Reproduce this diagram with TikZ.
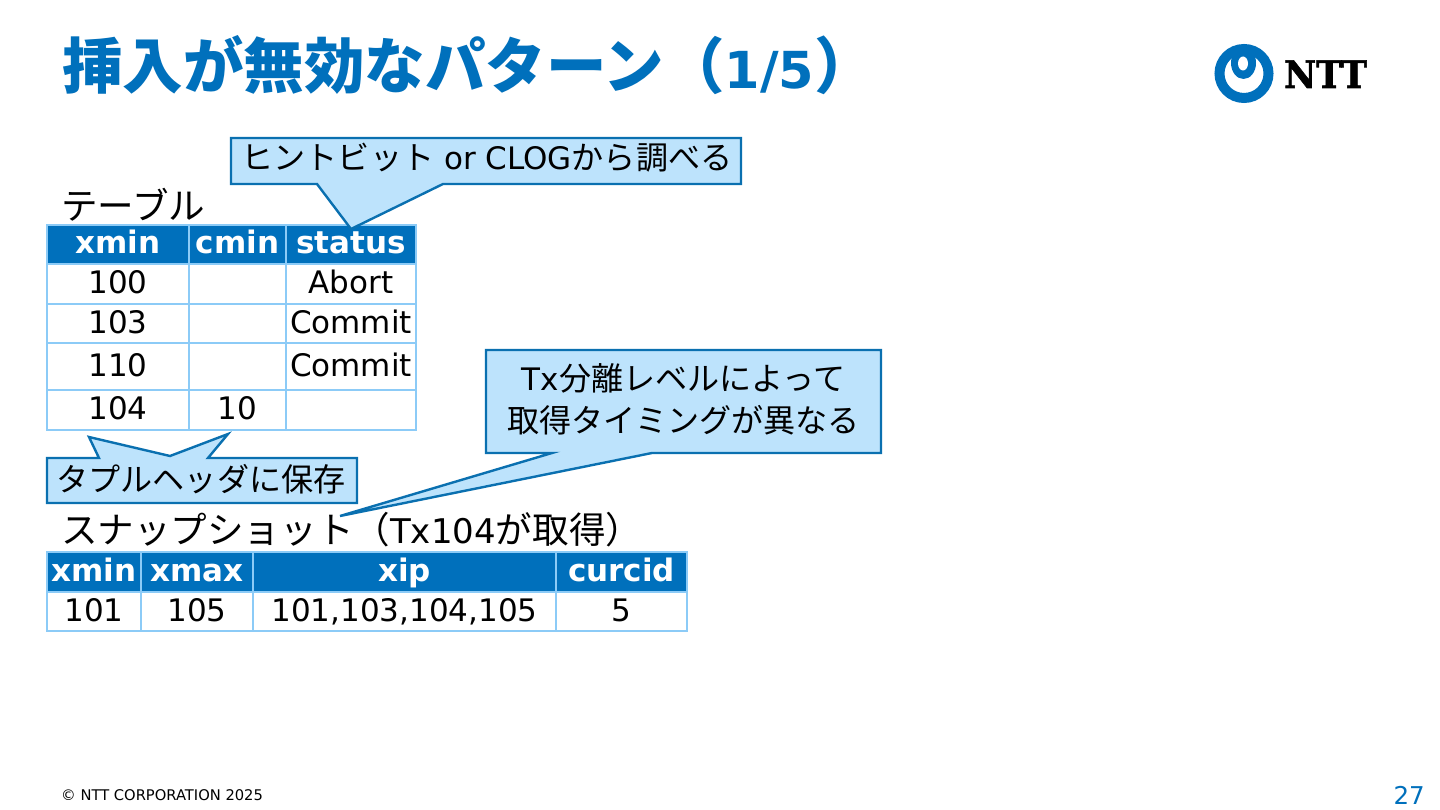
\documentclass[tikz,border=0pt]{standalone}
\usepackage{fontspec}
\setmainfont{DejaVu Sans}
\newfontfamily\jpf{Noto Sans CJK JP}
\newfontfamily\jpcall[Scale=1.035]{Noto Sans CJK JP}
\newfontfamily\jplab[Scale=1.075]{Noto Sans CJK JP}
\newfontfamily\logofont[BoldFeatures={FakeBold=1.5,FakeStretch=0.92}]{DejaVu Serif}
\newcommand{\jc}[1]{{\jpcall #1}}
\newcommand{\jl}[1]{{\jplab #1}}
\newcommand{\jt}[1]{{\jpf #1}}
\definecolor{nttblue}{HTML}{0070BC}
\definecolor{gridblue}{HTML}{8CCBF7}
\definecolor{callfill}{HTML}{BDE3FC}
\definecolor{callline}{HTML}{0A70B0}
\tikzset{
  x=1pt,y=-1pt,
  tcell/.style={draw=gridblue,line width=2.6pt,inner sep=0pt,text height=23pt,text depth=4pt,font=\fontsize{31}{34}\selectfont,text=black},
  thead/.style={tcell,fill=nttblue,text=white,font=\fontsize{31}{34}\selectfont\bfseries},
  callout/.style={fill=callfill,draw=callline,line width=2.4pt,line join=miter},
  calltext/.style={inner sep=0pt,anchor=base,text=black,font=\fontsize{31}{36}\selectfont},
  label/.style={inner sep=0pt,anchor=base west,text=black,font=\fontsize{34}{38}\selectfont},
}
% name, x0, y0, x1, y1, style, text
\newcommand{\cellbox}[7]{%
  \pgfmathsetmacro{\cw}{#4-#2}\pgfmathsetmacro{\ch}{#5-#3}%
  \pgfmathsetmacro{\cx}{(#2+#4)/2}\pgfmathsetmacro{\cy}{(#3+#5)/2}%
  \node[#6,minimum width=\cw pt,minimum height=\ch pt] (#1) at (\cx,\cy) {#7};}
\begin{document}
\begin{tikzpicture}
\useasboundingbox (0,0) rectangle (1440,810);
\fill[white] (0,0) rectangle (1440,810);

% title
\node[inner sep=0pt,anchor=base west,text=nttblue,font=\fontsize{60.5}{64}\selectfont\bfseries] (title) at (62,89)
  {\jt{挿入が無効なパターン（}\fontsize{51}{64}\selectfont 1/5\fontsize{61}{64}\selectfont\jt{）}};

% logo
\draw[nttblue,line width=10pt] (1244,73.5) circle (24.5);
\fill[nttblue] (1243.5,63) ellipse [x radius=12.5,y radius=16];
\fill[white] (1243,63.5) ellipse [x radius=5,y radius=7];
\node[inner sep=0pt,anchor=base west,text=black,font=\fontsize{38}{40}\selectfont] (ntt) at (1284,88) {\logofont\bfseries NTT};

% labels
\node[label] (tlabel) at (61,220) {\jl{テーブル}};
\node[label] (slabel) at (61,543.5) {\jl{スナップショット（}Tx104\jl{が取得）}};

% table
\cellbox{a00}{47}{225}{189}{264}{thead}{xmin}
\cellbox{a01}{189}{225}{286}{264}{thead}{cmin}
\cellbox{a02}{286}{225}{416}{264}{thead}{status}
\cellbox{a10}{47}{264}{189}{304}{tcell}{100}
\cellbox{a11}{189}{264}{286}{304}{tcell}{}
\cellbox{a12}{286}{264}{416}{304}{tcell}{Abort}
\cellbox{a20}{47}{304}{189}{343}{tcell}{103}
\cellbox{a21}{189}{304}{286}{343}{tcell}{}
\cellbox{a22}{286}{304}{416}{343}{tcell}{Commit}
\cellbox{a30}{47}{343}{189}{390}{tcell}{110}
\cellbox{a31}{189}{343}{286}{390}{tcell}{}
\cellbox{a32}{286}{343}{416}{390}{tcell}{Commit}
\cellbox{a40}{47}{390}{189}{430}{tcell}{104}
\cellbox{a41}{189}{390}{286}{430}{tcell}{10}
\cellbox{a42}{286}{390}{416}{430}{tcell}{}

% snapshot table
\cellbox{b00}{47}{552}{141}{592}{thead}{xmin}
\cellbox{b01}{141}{552}{253}{592}{thead}{xmax}
\cellbox{b02}{253}{552}{556}{592}{thead}{xip}
\cellbox{b03}{556}{552}{687}{592}{thead}{curcid}
\cellbox{b10}{47}{592}{141}{631}{tcell}{101}
\cellbox{b11}{141}{592}{253}{631}{tcell}{105}
\cellbox{b12}{253}{592}{556}{631}{tcell}{101,103,104,105}
\cellbox{b13}{556}{592}{687}{631}{tcell}{5}

% callouts
\draw[callout] (231,138) -- (741,138) -- (741,184) -- (443,184) -- (351,229) -- (317,184) -- (231,184) -- cycle;
\node[calltext] (c1) at (487,170) {\jc{ヒントビット} or CLOG\jc{から調べる}};

\draw[callout] (47,458) -- (99,458) -- (89,437) -- (170,456) -- (228,434) -- (208,458) -- (357,458) -- (357,503) -- (47,503) -- cycle;
\node[calltext] (c2) at (201,491) {\jc{タプルヘッダに保存}};

\draw[callout] (486,350) -- (881,350) -- (881,453) -- (652,453) -- (340,516) -- (552,453) -- (486,453) -- cycle;
\node[calltext] (c3a) at (683.5,390) {Tx\jc{分離レベルによって}};
\node[calltext] (c3b) at (683.5,432) {\jc{取得タイミングが異なる}};

% footer
\node[inner sep=0pt,anchor=base west,text=black,font=\fontsize{14.7}{16}\selectfont] (foot) at (61,800) {© NTT CORPORATION 2025};
\node[inner sep=0pt,anchor=base east,text=nttblue,font=\fontsize{24.5}{28}\selectfont] (page) at (1425,804) {27};
\end{tikzpicture}
\end{document}
